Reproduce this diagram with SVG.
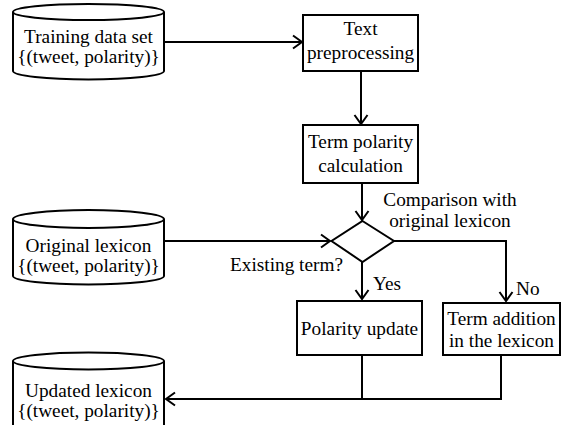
<svg xmlns="http://www.w3.org/2000/svg" width="563" height="425" viewBox="0 0 563 425">
<defs>
<style>
text{font-family:'Liberation Serif','Times New Roman',serif;font-size:19.3px;fill:#000}
.c{text-anchor:middle}
.shape{fill:#fff;stroke:#000;stroke-width:2}
.edge{fill:none;stroke:#000;stroke-width:2}
</style>
<marker id="ah" markerUnits="userSpaceOnUse" viewBox="-11 -8 13 16" refX="0" refY="0" markerWidth="13" markerHeight="16" orient="auto">
<path d="M-9,-6.5 L0,0 L-9,6.5" fill="none" stroke="#000" stroke-width="2"/>
</marker>
</defs>
<rect width="563" height="425" fill="#fff"/>
<g id="edges">
<path class="edge" d="M165,42 H302" marker-end="url(#ah)"/>
<path class="edge" d="M361,71 V124" marker-end="url(#ah)"/>
<path class="edge" d="M362,183 V220" marker-end="url(#ah)"/>
<path class="edge" d="M165,241 H330" marker-end="url(#ah)"/>
<path class="edge" d="M394,241 H506 V301" marker-end="url(#ah)"/>
<path class="edge" d="M362,262 V299" marker-end="url(#ah)"/>
<path class="edge" d="M362,355 V399 M501,355 V399 H166" marker-end="url(#ah)"/>
</g>
<g id="training">
<path class="shape" d="M13,12 V71 A75.5 8.5 0 0 0 164,71 V12"/>
<ellipse class="shape" cx="88.5" cy="12" rx="75.5" ry="8"/>
<text class="c" x="88.5" y="43">Training data set</text>
<text class="c" x="88.5" y="63">{(tweet, polarity)}</text>
</g>
<g id="preprocessing">
<rect class="shape" x="303" y="15" width="115" height="56"/>
<text class="c" x="360.5" y="35">Text</text>
<text class="c" x="360.5" y="59">preprocessing</text>
</g>
<g id="termpolarity">
<rect class="shape" x="303" y="125" width="115" height="58"/>
<text class="c" x="360.5" y="148">Term polarity</text>
<text class="c" x="360.5" y="172">calculation</text>
</g>
<g id="comparison">
<path class="shape" d="M362.5,221 L394,241 L362.5,262 L331.5,241 Z"/>
<text class="c" x="450" y="206">Comparison with</text>
<text class="c" x="450" y="227">original lexicon</text>
<text x="343" y="271" text-anchor="end">Existing term?</text>
<text x="373" y="290">Yes</text>
<text x="516" y="295">No</text>
</g>
<g id="original">
<path class="shape" d="M13,219 V276 A75.5 8.5 0 0 0 164,276 V219"/>
<ellipse class="shape" cx="88.5" cy="219" rx="75.5" ry="9"/>
<text class="c" x="88.5" y="252">Original lexicon</text>
<text class="c" x="88.5" y="272">{(tweet, polarity)}</text>
</g>
<g id="polarityupdate">
<rect class="shape" x="297" y="301" width="125" height="54"/>
<text class="c" x="359.5" y="335">Polarity update</text>
</g>
<g id="termaddition">
<rect class="shape" x="443" y="303" width="117" height="52"/>
<text class="c" x="501.5" y="325">Term addition</text>
<text class="c" x="501.5" y="347">in the lexicon</text>
</g>
<g id="updated">
<path class="shape" d="M13,361 V426 A75.5 8.5 0 0 0 164,426 V361"/>
<ellipse class="shape" cx="88.5" cy="361" rx="75.5" ry="8.5"/>
<text class="c" x="88.5" y="397">Updated lexicon</text>
<text class="c" x="88.5" y="417">{(tweet, polarity)}</text>
</g>
</svg>
